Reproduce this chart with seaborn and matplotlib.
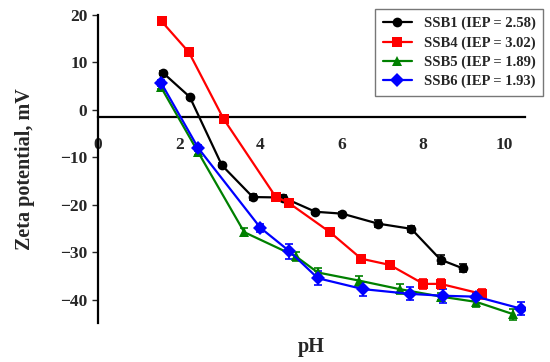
import numpy as np
import pandas as pd
import matplotlib
matplotlib.use('Agg')
import matplotlib.pyplot as plt
import seaborn as sns

# values
ph_ssb1 = [1.60, 2.26, 3.05, 3.81, 4.56, 5.35, 6.01, 6.89, 7.71, 8.43, 8.97]
zp_ssb1 = [7.8, 2.7, -11.7, -18.4, -18.5, -21.5, -21.9, -24.0, -25.1, -31.6, -33.4]
er_ssb1 = [0.4, 0.4, 0.4, 0.6, 0.5, 0.4, 0.4, 0.7, 0.7, 0.9, 0.9]

ph_ssb4 = [1.57, 2.24, 3.09, 4.37, 4.69, 5.71, 6.48, 7.18, 8.01, 8.43, 9.44]
zp_ssb4 = [18.6, 12.1, -1.9, -18.3, -19.6, -25.8, -31.4, -32.7, -36.7, -36.7, -38.8]
er_ssb4 = [0.6, 0.6, 0.5, 0.5, 0.7, 0.7, 0.7, 0.7, 1.0, 1.1, 1.0]

ph_ssb5 = [1.55, 2.47, 3.60, 4.87, 5.41, 6.42, 7.42, 8.45, 9.31, 10.22]
zp_ssb5 = [4.8, -9.0, -25.8, -30.9, -34.3, -36.0, -37.8, -39.4, -40.5, -43.1]
er_ssb5 = [0.5, 0.5, 0.9, 1.0, 1.05, 1.05, 1.0, 0.8, 1.0, 1.2]

ph_ssb6 = [1.56, 2.47, 4.00, 4.71, 5.41, 6.52, 7.67, 8.49, 9.31, 10.40]
zp_ssb6 = [5.6, -8.1, -24.9, -29.8, -35.5, -37.8, -38.8, -39.2, -39.4, -41.9]
er_ssb6 = [0.6, 0.6, 0.9, 1.6, 1.5, 1.5, 1.35, 1.5, 0.8, 1.3]

labels = ['SSB1 (IEP = 2.58)', 'SSB4 (IEP = 3.02)', 'SSB5 (IEP = 1.89)', 'SSB6 (IEP = 1.93)']
colors = ['black', 'red', 'green', 'blue']
markers = ['o', 's', '^', 'D']

series = [(ph_ssb1, zp_ssb1, er_ssb1), (ph_ssb4, zp_ssb4, er_ssb4),
          (ph_ssb5, zp_ssb5, er_ssb5), (ph_ssb6, zp_ssb6, er_ssb6)]

frames = []
for lab, (x, y, e) in zip(labels, series):
    frames.append(pd.DataFrame({'pH': x, 'zeta': y, 'err': e, 'sample': lab}))
df = pd.concat(frames, ignore_index=True)

sns.set_style('white')
plt.rcParams['font.family'] = ['Liberation Serif', 'DejaVu Serif']
plt.rcParams['font.weight'] = 'bold'

fig = plt.figure(figsize=(5.5, 3.62), dpi=100)
ax = fig.add_axes([0.178, 0.107, 0.776, 0.852])

for lab, c in zip(labels, colors):
    d = df[df['sample'] == lab]
    ax.errorbar(d['pH'], d['zeta'], yerr=d['err'], fmt='none', ecolor=c,
                elinewidth=1.2, capsize=3, capthick=1.2, zorder=2)

sns.lineplot(data=df, x='pH', y='zeta', hue='sample', style='sample',
             palette=dict(zip(labels, colors)), markers=dict(zip(labels, markers)),
             dashes=False, sort=False, estimator=None, linewidth=1.6,
             markersize=7, markeredgewidth=0, ax=ax, zorder=3)

ax.set_xlim(0, 10.5)
ax.set_ylim(-45, 20)
ax.set_xticks([0, 2, 4, 6, 8, 10])
ax.set_yticks([-40, -30, -20, -10, 0, 10, 20])
ax.set_yticklabels(['\u221240', '\u221230', '\u221220', '\u221210', '0', '10', '20'])

ax.spines['top'].set_visible(False)
ax.spines['right'].set_visible(False)
ax.spines['bottom'].set_position(('data', -1.55))
ax.spines['left'].set_linewidth(1.6)
ax.spines['bottom'].set_linewidth(1.6)
ax.spines['left'].set_color('black')
ax.spines['bottom'].set_color('black')

ax.tick_params(axis='x', direction='in', length=4, width=1, labelsize=12.5, pad=14)
ax.tick_params(axis='y', direction='out', length=4, width=1, labelsize=12.5, left=True)
for t in ax.get_xticklabels() + ax.get_yticklabels():
    t.set_fontweight('bold')

ax.set_xlabel('pH', fontsize=14.5, fontweight='bold')
ax.set_ylabel('Zeta potential, mV', fontsize=14.5, fontweight='bold')
ax.xaxis.set_label_coords(0.5, -0.045)
ax.yaxis.set_label_coords(-0.148, 0.5)

leg = ax.legend(loc='upper right', bbox_to_anchor=(1.044, 1.019), frameon=True,
                fancybox=False, edgecolor='#555555', borderaxespad=0,
                handlelength=2.0, borderpad=0.55, labelspacing=0.4,
                prop={'weight': 'bold', 'size': 10.5})
leg.get_frame().set_linewidth(1.0)

fig.savefig('out.png', dpi=100)
